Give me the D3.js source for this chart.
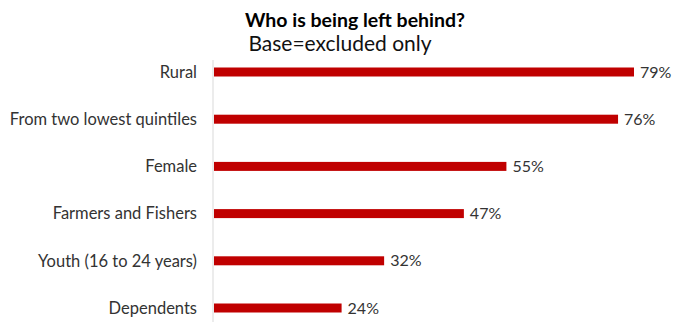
<!DOCTYPE html>
<html>
<head>
<meta charset="utf-8">
<script src="https://cdn.jsdelivr.net/npm/d3@7"></script>
<style>
  body { margin: 0; background: #fff; }
  svg text { font-family: Lato, "Open Sans", sans-serif; }
</style>
</head>
<body>
<div id="plot"></div>
<script>
// data
var categories = ["Rural", "From two lowest quintiles", "Female", "Farmers and Fishers", "Youth (16 to 24 years)", "Dependents"];
var values = [79, 76, 55, 47, 32, 24];
var valueLabels = ["79%", "76%", "55%", "47%", "32%", "24%"];

var width = 687, height = 322;

var svg = d3.select('#plot')
    .append('svg')
    .attr('width', width)
    .attr('height', height);

var x = d3.scaleLinear().domain([0, 79]).range([214, 634]);
var y = d3.scalePoint().domain(categories).range([72, 308]);
var barH = 9;

// title
svg.append('text')
    .attr('x', 355).attr('y', 27)
    .attr('text-anchor', 'middle')
    .style('font-size', '19.5px')
    .style('font-weight', 'bold')
    .style('fill', '#000')
    .text('Who is being left behind?');

svg.append('text')
    .attr('x', 340).attr('y', 51)
    .attr('text-anchor', 'middle')
    .style('font-size', '21px')
    .style('fill', '#111')
    .text('Base=excluded only');

// vertical axis line
svg.append('line')
    .attr('x1', x(0) - 1).attr('x2', x(0) - 1)
    .attr('y1', 60).attr('y2', height)
    .attr('stroke', '#d9d9d9')
    .attr('stroke-width', 1);

var rows = svg.selectAll('.row')
    .data(categories)
    .enter()
    .append('g')
    .attr('class', 'row');

rows.append('rect')
    .attr('x', x(0))
    .attr('y', function(d){ return y(d) - barH / 2; })
    .attr('width', function(d, i){ return x(values[i]) - x(0); })
    .attr('height', barH)
    .attr('fill', '#c00000');

rows.append('text')
    .attr('x', 197)
    .attr('y', function(d){ return y(d); })
    .attr('dy', '0.35em')
    .attr('text-anchor', 'end')
    .style('font-size', '16.5px')
    .style('fill', '#333')
    .text(function(d){ return d; });

rows.append('text')
    .attr('x', function(d, i){ return x(values[i]) + 6; })
    .attr('y', function(d){ return y(d); })
    .attr('dy', '0.35em')
    .style('font-size', '16px')
    .style('fill', '#333')
    .text(function(d, i){ return valueLabels[i]; });
</script>
</body>
</html>
